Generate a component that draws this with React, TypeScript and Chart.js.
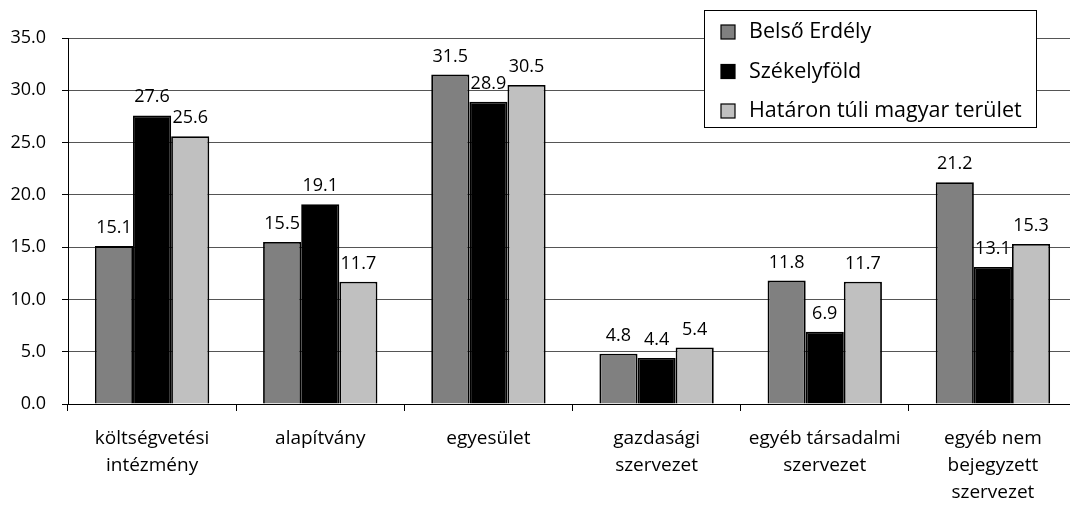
import React, { useEffect, useRef } from "react";
import { Chart, registerables } from "chart.js";

Chart.register(...registerables);

const categories: string[][] = [
  ["költségvetési", "intézmény"],
  ["alapítvány"],
  ["egyesület"],
  ["gazdasági", "szervezet"],
  ["egyéb társadalmi", "szervezet"],
  ["egyéb nem", "bejegyzett", "szervezet"],
];
const seriesNames = ["Belső Erdély", "Székelyföld", "Határon túli magyar terület"];
const belsoErdely = [15.1, 15.5, 31.5, 4.8, 11.8, 21.2];
const szekelyfold = [27.6, 19.1, 28.9, 4.4, 6.9, 13.1];
const hataronTuli = [25.6, 11.7, 30.5, 5.4, 11.7, 15.3];
const seriesColors = ["#808080", "#000000", "#c0c0c0"];
const yTicks = [0, 5, 10, 15, 20, 25, 30, 35];

const FONT = "'Open Sans', 'Noto Sans', sans-serif";

const valueLabels = {
  id: "valueLabels",
  afterDatasetsDraw(chart: any) {
    const ctx = chart.ctx;
    ctx.save();
    ctx.font = `18px ${FONT}`;
    ctx.fillStyle = "#000";
    ctx.textAlign = "center";
    ctx.textBaseline = "alphabetic";
    chart.data.datasets.forEach((ds: any, di: number) => {
      const meta = chart.getDatasetMeta(di);
      meta.data.forEach((bar: any, i: number) => {
        ctx.fillText(Number(ds.data[i]).toFixed(1), bar.x, bar.y - 13);
      });
    });
    ctx.restore();
  },
};

const boxLegend = {
  id: "boxLegend",
  afterDraw(chart: any) {
    const ctx = chart.ctx;
    ctx.save();
    const x0 = 704.5, y0 = 10.5, w = 332, h = 117;
    ctx.fillStyle = "#fff";
    ctx.fillRect(x0, y0, w, h);
    ctx.strokeStyle = "#000";
    ctx.lineWidth = 1;
    ctx.strokeRect(x0, y0, w, h);
    ctx.font = `21.5px ${FONT}`;
    ctx.textBaseline = "middle";
    ctx.textAlign = "left";
    chart.data.datasets.forEach((ds: any, i: number) => {
      const cy = 32 + i * 39.5;
      ctx.fillStyle = ds.backgroundColor;
      ctx.fillRect(721, cy - 7, 14, 14);
      ctx.lineWidth = 1.2;
      ctx.strokeStyle = "#000";
      ctx.strokeRect(721, cy - 7, 14, 14);
      ctx.fillStyle = "#000";
      ctx.fillText(ds.label, 749, cy);
    });
    ctx.restore();
  },
};

export default function App() {
  const ref = useRef<HTMLCanvasElement | null>(null);
  useEffect(() => {
    if (!ref.current) return;
    const data = [belsoErdely, szekelyfold, hataronTuli];
    const chart = new Chart(ref.current, {
      type: "bar",
      data: {
        labels: categories,
        datasets: seriesNames.map((name, i) => ({
          label: name,
          data: data[i],
          backgroundColor: seriesColors[i],
          borderColor: "#000",
          borderWidth: 1.8,
          categoryPercentage: 0.68,
          barPercentage: 1,
        })),
      },
      options: {
        responsive: false,
        animation: false,
        maintainAspectRatio: false,
        layout: { padding: { top: 38, right: 5, left: 0, bottom: 0 } },
        plugins: {
          legend: { display: false },
          tooltip: { enabled: false },
          title: { display: false },
        },
        scales: {
          x: {
            afterFit: (s: any) => {
              s.height = 101;
            },
            grid: {
              offset: true,
              drawOnChartArea: false,
              color: "#000",
              tickLength: 7,
            },
            border: { color: "#000", width: 1 },
            ticks: {
              color: "#000",
              font: { family: FONT, size: 19, lineHeight: 1.42 },
              padding: 14,
              maxRotation: 0,
              autoSkip: false,
            },
          },
          y: {
            min: 0,
            max: 35,
            afterFit: (s: any) => {
              s.width = 68;
            },
            afterBuildTicks: (s: any) => {
              s.ticks = yTicks.map((v) => ({ value: v }));
            },
            grid: {
              color: "#555",
              tickColor: "#000",
              tickLength: 6,
            },
            border: { color: "#000", width: 1 },
            ticks: {
              color: "#000",
              font: { family: FONT, size: 18 },
              padding: 16,
              callback: (v: any) => Number(v).toFixed(1),
            },
          },
        },
      },
      plugins: [valueLabels, boxLegend],
    });
    return () => chart.destroy();
  }, []);
  return (
    <div
      style={{
        position: "fixed",
        left: 0,
        top: 0,
        width: 1070,
        height: 505,
        overflow: "hidden",
        background: "#fff",
      }}
    >
      <canvas ref={ref} width={1082} height={505} style={{ display: "block" }} />
    </div>
  );
}
